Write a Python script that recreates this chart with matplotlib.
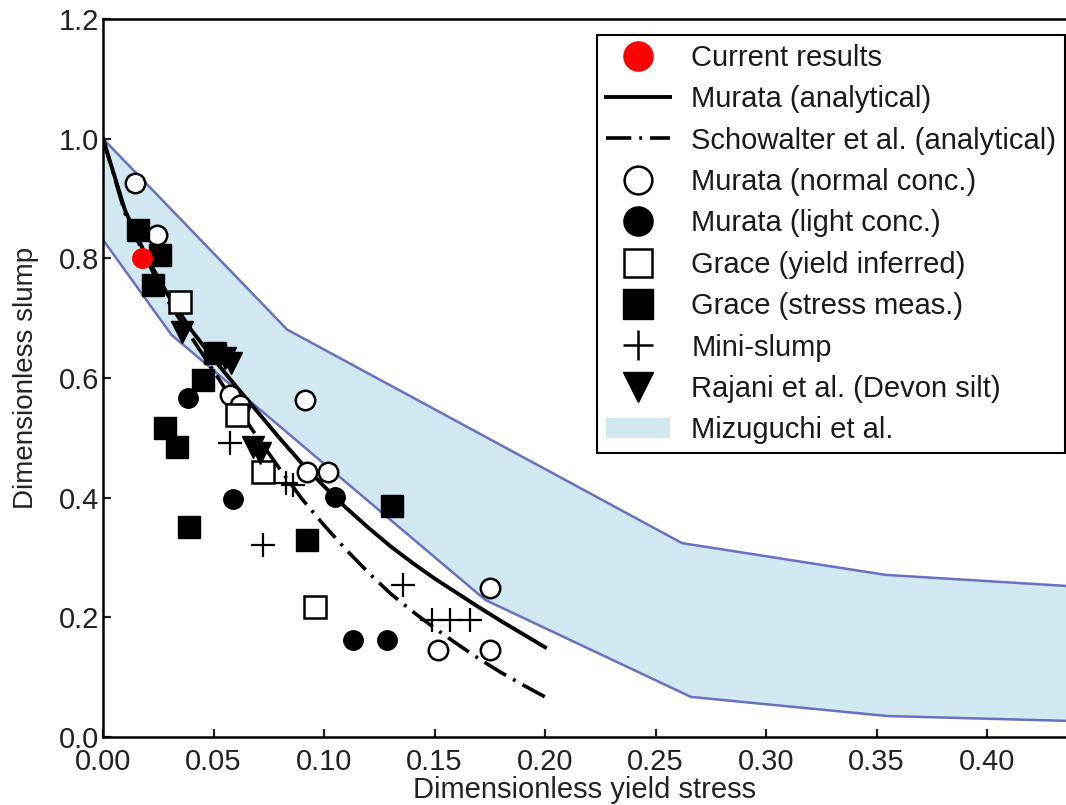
import matplotlib
matplotlib.use("Agg")
import matplotlib.pyplot as plt
from matplotlib.lines import Line2D
from matplotlib.patches import Patch

plt.rcParams['font.family'] = ['Liberation Sans', 'DejaVu Sans']

# Mizuguchi et al. envelope (upper and lower bounds)
band_upper_x = [0.0, 0.0833, 0.262, 0.354, 0.4357]
band_upper_y = [1.0, 0.681, 0.324, 0.271, 0.2525]
band_lower_x = [0.0, 0.031, 0.173, 0.266, 0.355, 0.4357]
band_lower_y = [0.831, 0.672, 0.229, 0.067, 0.035, 0.027]

# analytical curves
curve_x = [0.0, 0.01, 0.02, 0.03, 0.04, 0.05, 0.06, 0.07, 0.08, 0.09, 0.10,
           0.11, 0.12, 0.13, 0.14, 0.15, 0.16, 0.17, 0.18, 0.19, 0.20]
murata_y = [1.0, 0.88, 0.80, 0.735, 0.680, 0.632, 0.587, 0.543, 0.499, 0.457, 0.419,
            0.383, 0.350, 0.319, 0.291, 0.265, 0.241, 0.217, 0.194, 0.172, 0.150]
schowalter_y = [1.0, 0.875, 0.795, 0.725, 0.668, 0.612, 0.555, 0.500, 0.448, 0.398, 0.354,
                0.313, 0.275, 0.240, 0.210, 0.182, 0.156, 0.131, 0.108, 0.087, 0.067]

# experimental data
current_x = [0.0176]
current_y = [0.801]

murata_normal_x = [0.0145, 0.0244, 0.0575, 0.062, 0.0914, 0.0923, 0.1018, 0.175, 0.1516, 0.175]
murata_normal_y = [0.926, 0.839, 0.572, 0.555, 0.564, 0.443, 0.443, 0.249, 0.145, 0.145]

murata_light_x = [0.0385, 0.0588, 0.105, 0.113, 0.1285]
murata_light_y = [0.567, 0.398, 0.401, 0.162, 0.162]

grace_inf_x = [0.0348, 0.0606, 0.0724, 0.0959]
grace_inf_y = [0.727, 0.538, 0.443, 0.217]

grace_meas_x = [0.0158, 0.0258, 0.0226, 0.0507, 0.0452, 0.028, 0.0335, 0.0389, 0.0923, 0.1308]
grace_meas_y = [0.848, 0.806, 0.756, 0.642, 0.597, 0.517, 0.485, 0.351, 0.329, 0.386]

mini_x = [0.0575, 0.086, 0.083, 0.0724, 0.1357, 0.1489, 0.157, 0.166]
mini_y = [0.492, 0.421, 0.425, 0.321, 0.254, 0.196, 0.196, 0.196]

rajani_x = [0.0357, 0.0552, 0.058, 0.0679, 0.071]
rajani_y = [0.677, 0.634, 0.625, 0.485, 0.475]

fig = plt.figure(figsize=(10.66, 8.05), dpi=100)
ax = fig.add_axes([103 / 1066, 68 / 805, 963 / 1066, 718 / 805])

band_face = '#d2e8f0'
band_edge = '#6870c0'
ax.fill(band_upper_x + band_lower_x[::-1], band_upper_y + band_lower_y[::-1],
        color=band_face, lw=0, zorder=1)
ax.plot(band_upper_x, band_upper_y, color=band_edge, lw=1.8, zorder=2)
ax.plot(band_lower_x, band_lower_y, color=band_edge, lw=1.8, zorder=2)

ax.plot(curve_x, murata_y, color='black', lw=2.8, zorder=3)
dashdot = (0, (7, 2.2, 0.8, 2.2))
ax.plot(curve_x, schowalter_y, color='black', lw=2.6, ls=dashdot, zorder=3)

mk = dict(ls='none', zorder=4)
ax.plot(murata_normal_x, murata_normal_y, marker='o', ms=14, mfc='white', mec='black', mew=1.8, **mk)
ax.plot(murata_light_x, murata_light_y, marker='o', ms=14, mfc='black', mec='black', **mk)
ax.plot(grace_inf_x, grace_inf_y, marker='s', ms=16, mfc='white', mec='black', mew=1.8, **mk)
ax.plot(grace_meas_x, grace_meas_y, marker='s', ms=16.5, mfc='black', mec='black', **mk)
ax.plot(mini_x, mini_y, marker='+', ms=17, mec='black', mew=1.6, **mk)
ax.plot(rajani_x, rajani_y, marker='v', ms=16, mfc='black', mec='black', **mk)
ax.plot(current_x, current_y, marker='o', ms=14, mfc='red', mec='red', ls='none', zorder=5)

ax.set_xlim(0, 0.4357)
ax.set_ylim(0, 1.2)
ax.set_xticks([0.0, 0.05, 0.10, 0.15, 0.20, 0.25, 0.30, 0.35, 0.40])
ax.set_xticklabels(['0.00', '0.05', '0.10', '0.15', '0.20', '0.25', '0.30', '0.35', '0.40'])
ax.set_yticks([0.0, 0.2, 0.4, 0.6, 0.8, 1.0, 1.2])
ax.set_yticklabels(['0.0', '0.2', '0.4', '0.6', '0.8', '1.0', '1.2'])
ax.tick_params(direction='in', length=6, width=1.6, labelsize=21, colors='#222222')
ax.tick_params(axis='y', pad=3)
ax.tick_params(axis='x', pad=8)
for side in ['left', 'bottom', 'top']:
    ax.spines[side].set_linewidth(1.8)
ax.spines['right'].set_visible(False)

ax.set_xlabel('Dimensionless yield stress', fontsize=21, color='#222222', labelpad=0)
fig.text(0.024, 0.53, 'Dimensionless slump', rotation=90, fontsize=20,
         family=['Liberation Sans Narrow', 'DejaVu Sans Condensed', 'Liberation Sans'],
         color='#222222', ha='center', va='center')

handles = [
    Line2D([], [], marker='o', ms=21, mfc='red', mec='red', ls='none'),
    Line2D([], [], color='black', lw=2.8),
    Line2D([], [], color='black', lw=2.6, ls=dashdot),
    Line2D([], [], marker='o', ms=20, mfc='white', mec='black', mew=1.8, ls='none'),
    Line2D([], [], marker='o', ms=21, mfc='black', mec='black', ls='none'),
    Line2D([], [], marker='s', ms=20, mfc='white', mec='black', mew=1.8, ls='none'),
    Line2D([], [], marker='s', ms=21, mfc='black', mec='black', ls='none'),
    Line2D([], [], marker='+', ms=22, mec='black', mew=1.8, ls='none'),
    Line2D([], [], marker='v', ms=21, mfc='black', mec='black', ls='none'),
    Patch(facecolor=band_face, edgecolor='none'),
]
labels = ['Current results', 'Murata (analytical)', 'Schowalter et al. (analytical)',
          'Murata (normal conc.)', 'Murata (light conc.)', 'Grace (yield inferred)',
          'Grace (stress meas.)', 'Mini-slump', 'Rajani et al. (Devon silt)', 'Mizuguchi et al.']
leg = ax.legend(handles, labels, loc='upper right', bbox_to_anchor=(1065 / 1066, 770 / 805),
                bbox_transform=fig.transFigure, fontsize=21, frameon=True, fancybox=False,
                framealpha=1, edgecolor='black', handlelength=2.2, handletextpad=0.72,
                labelspacing=0.46, borderpad=0.3, borderaxespad=0)
leg.get_frame().set_linewidth(1.5)
for t in leg.get_texts():
    t.set_color('#1a1a1a')

fig.savefig('out.png', dpi=100)
